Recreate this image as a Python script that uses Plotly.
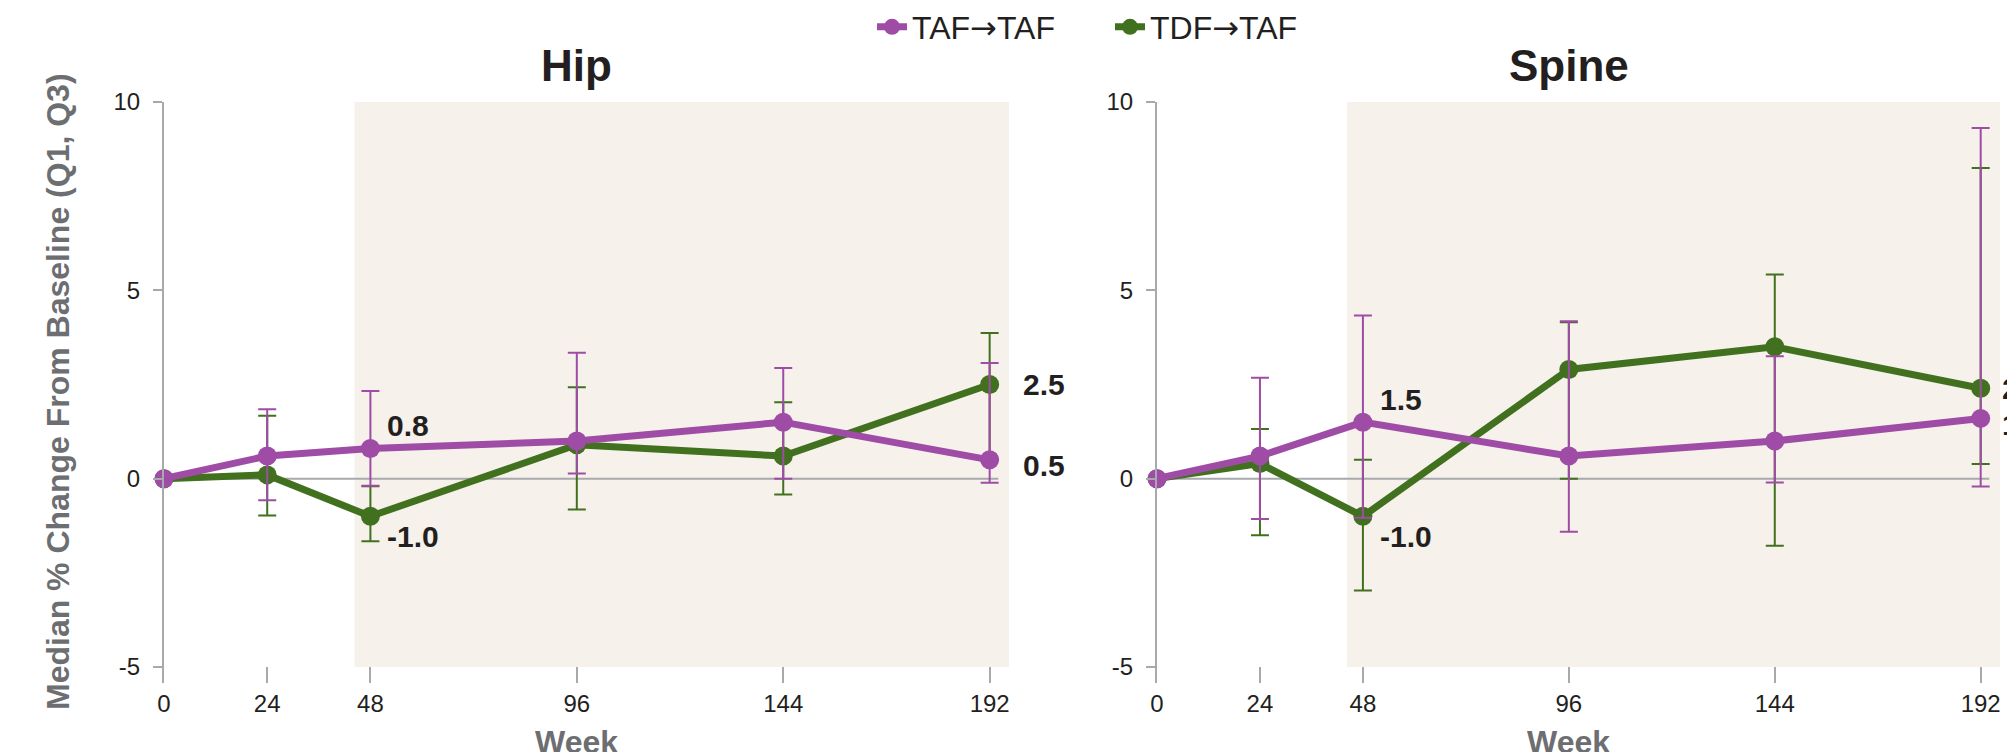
import plotly.graph_objects as go

# ---------------- data ----------------
weeks = [0, 24, 48, 96, 144, 192]
week_ticks = [0, 24, 48, 96, 144, 192]
y_ticks = [-5, 0, 5, 10]
y_tick_labels = ["-5", "0", "5", "10"]

series_names = ["TAF\u2192TAF", "TDF\u2192TAF"]
panel_titles = ["Hip", "Spine"]

hip_taf_median = [0, 0.6, 0.8, 1.0, 1.5, 0.5]
hip_taf_q1 = [0, -0.57, -0.19, 0.14, 0.0, -0.11]
hip_taf_q3 = [0, 1.84, 2.33, 3.34, 2.94, 3.07]

hip_tdf_median = [0, 0.1, -1.0, 0.9, 0.6, 2.5]
hip_tdf_q1 = [0, -0.98, -1.66, -0.82, -0.42, 0.5]
hip_tdf_q3 = [0, 1.67, -0.2, 2.43, 2.03, 3.87]

spine_taf_median = [0, 0.6, 1.5, 0.6, 1.0, 1.6]
spine_taf_q1 = [0, -1.07, -1.04, -1.41, -0.1, -0.21]
spine_taf_q3 = [0, 2.68, 4.33, 4.18, 3.25, 9.31]

spine_tdf_median = [0, 0.4, -1.0, 2.9, 3.5, 2.4]
spine_tdf_q1 = [0, -1.5, -2.97, 0.0, -1.78, 0.39]
spine_tdf_q3 = [0, 1.32, 0.5, 4.15, 5.42, 8.25]

# weeks whose medians are printed
labelled_weeks = [48, 192]
shade_start_week = 44.3

# ---------------- style ----------------
W, H = 2007, 752
FONT = "Liberation Sans, Arial, sans-serif"
ARROW_FONT = "DejaVu Sans"
PURPLE = "#9e4ca6"
GREEN = "#41701e"
AXIS_GREY = "#a7a9ac"
SHADE = "#f6f1ea"
TEXT = "#231f20"
TITLE_GREY = "#6d6e71"

X_RANGE = [0, 196.5]
Y_RANGE = [-5.425, 10]


def legend_label(name):
    # render the arrow with a font that has a long, centred arrow glyph
    return name.replace(
        "\u2192", f"<span style='font-family:{ARROW_FONT}'>\u2192</span>")


panels = [
    dict(title=panel_titles[0], xa="x", ya="y", dom=(164, 1009),
         data=[(hip_taf_median, hip_taf_q1, hip_taf_q3),
               (hip_tdf_median, hip_tdf_q1, hip_tdf_q3)],
         rshift=31),
    dict(title=panel_titles[1], xa="x2", ya="y2", dom=(1157, 2000),
         data=[(spine_taf_median, spine_taf_q1, spine_taf_q3),
               (spine_tdf_median, spine_tdf_q1, spine_tdf_q3)],
         rshift=19),
]
colors = [PURPLE, GREEN]

fig = go.Figure()
annotations = []
shapes = []

for pi, p in enumerate(panels):
    # draw TDF first so TAF sits on top
    for si in [1, 0]:
        med, q1, q3 = p["data"][si]
        plus = [b - m for m, b in zip(med, q3)]
        minus = [m - a for m, a in zip(med, q1)]
        fig.add_trace(go.Scatter(
            x=weeks, y=med, mode="lines+markers",
            name=legend_label(series_names[si]),
            legendgroup=series_names[si],
            showlegend=(pi == 0), legendrank=si + 1,
            xaxis=p["xa"], yaxis=p["ya"],
            line=dict(color=colors[si], width=7),
            marker=dict(color=colors[si], size=19),
            error_y=dict(type="data", array=plus, arrayminus=minus,
                         symmetric=False, color=colors[si],
                         thickness=2, width=9),
            cliponaxis=False,
        ))
        # value labels
        for w in labelled_weeks:
            i = weeks.index(w)
            v = med[i]
            other = p["data"][1 - si][0][i]
            above = v >= other
            if w == 48:
                xs, ys = 15, (23 if above else -20)
            else:
                xs, ys = p["rshift"], (0 if above else -6)
            annotations.append(dict(
                x=w, y=v, xref=p["xa"], yref=p["ya"], text=f"{v:.1f}",
                showarrow=False, xanchor="left", yanchor="middle",
                xshift=xs, yshift=ys,
                font=dict(family=FONT, size=30, color=TEXT, weight="bold"),
            ))

    # shaded region & zero line
    shapes.append(dict(type="rect", xref=p["xa"], yref=p["ya"],
                       x0=shade_start_week, x1=X_RANGE[1], y0=-5, y1=10,
                       fillcolor=SHADE, line=dict(width=0), layer="below"))
    shapes.append(dict(type="line", xref=p["xa"], yref=p["ya"],
                       x0=0, x1=194, y0=0, y1=0,
                       line=dict(color=AXIS_GREY, width=2), layer="below"))

    # panel title
    annotations.append(dict(
        x=96, xref=p["xa"], y=1 - 66 / H, yref="paper", text=p["title"],
        showarrow=False, xanchor="center", yanchor="middle",
        font=dict(family=FONT, size=44, color=TEXT, weight="bold")))
    # x title
    annotations.append(dict(
        x=96, xref=p["xa"], y=1 - 742 / H, yref="paper", text="Week",
        showarrow=False, xanchor="center", yanchor="middle",
        font=dict(family=FONT, size=32, color=TITLE_GREY, weight="bold")))

    ax_common = dict(showgrid=False, zeroline=False)
    xkey = "xaxis" if pi == 0 else "xaxis2"
    ykey = "yaxis" if pi == 0 else "yaxis2"
    fig.update_layout(**{
        xkey: dict(domain=[p["dom"][0] / W, p["dom"][1] / W], range=X_RANGE,
                   anchor=p["ya"], tickvals=week_ticks, ticks="inside",
                   ticklen=16, tickwidth=2, tickcolor=AXIS_GREY,
                   showline=False, ticklabelstandoff=4,
                   tickfont=dict(family=FONT, size=24, color=TEXT), **ax_common),
        ykey: dict(domain=[1 - 683 / H, 1 - 102 / H], range=Y_RANGE,
                   anchor=p["xa"], tickvals=y_ticks, ticktext=y_tick_labels,
                   ticks="outside",
                   ticklen=9, tickwidth=2, tickcolor=AXIS_GREY,
                   showline=True, linecolor=AXIS_GREY, linewidth=2,
                   ticklabelstandoff=8,
                   tickfont=dict(family=FONT, size=24, color=TEXT), **ax_common),
    })

# y-axis title (left panel only)
annotations.append(dict(
    x=58 / W, y=1 - 392 / H, xref="paper", yref="paper",
    text="Median % Change From Baseline (Q1, Q3)", textangle=-90,
    showarrow=False, xanchor="center", yanchor="middle",
    font=dict(family=FONT, size=32, color=TITLE_GREY, weight="bold")))

fig.update_layout(
    width=W, height=H,
    margin=dict(l=0, r=0, t=0, b=0, autoexpand=False),
    paper_bgcolor="white", plot_bgcolor="rgba(0,0,0,0)",
    font=dict(family=FONT, color=TEXT),
    showlegend=True,
    legend=dict(orientation="h", x=872 / W, xanchor="left",
                y=1 - 27 / H, yanchor="middle", entrywidth=193,
                font=dict(family=FONT, size=32, color=TEXT),
                bgcolor="rgba(0,0,0,0)", traceorder="normal"),
    shapes=shapes, annotations=annotations,
)

fig.write_html("out.html", config={"displayModeBar": False},
               post_script="document.body.style.margin='0px';")
